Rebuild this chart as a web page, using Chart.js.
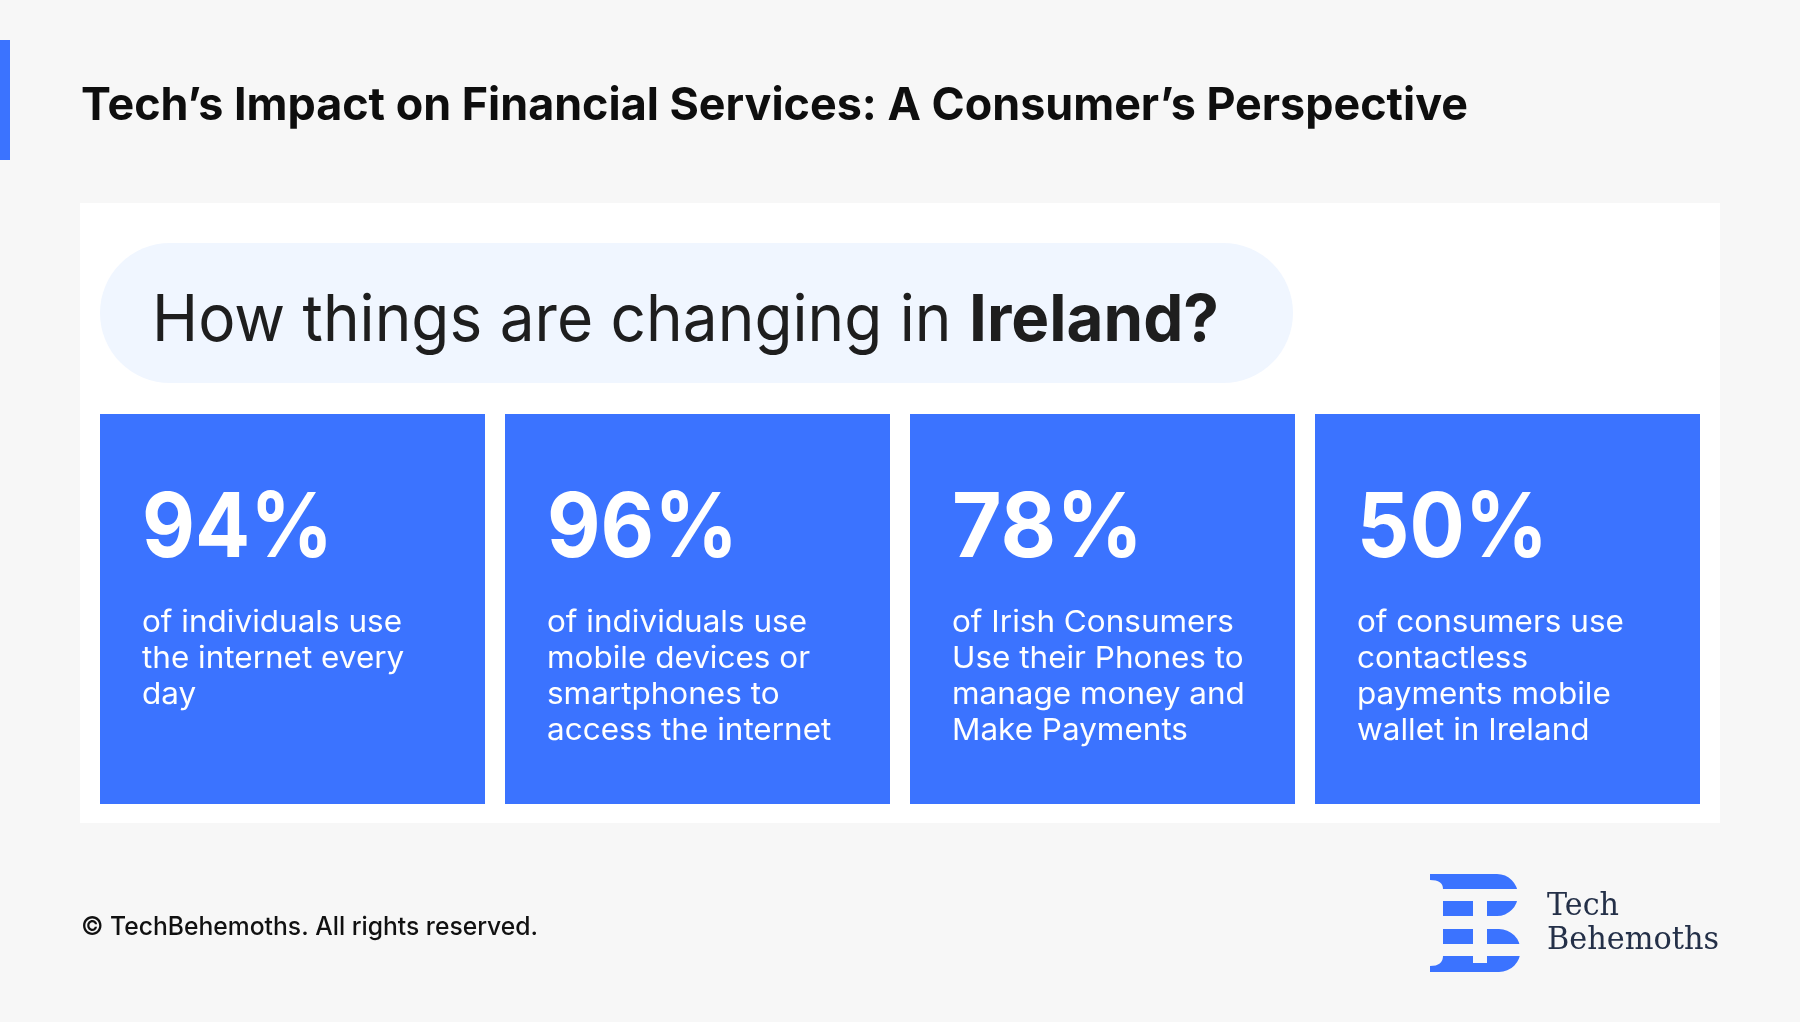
<!DOCTYPE html>
<html>
<head>
<meta charset="utf-8">
<script src="https://cdn.jsdelivr.net/npm/chart.js@4.4.1/dist/chart.umd.min.js"></script>
<style>
  html, body { margin: 0; padding: 0; background: #F7F7F7; }
  #wrap { width: 1800px; height: 1022px; }
</style>
</head>
<body>
<div id="wrap"><canvas id="stats" width="1800" height="1022"></canvas></div>
<script>
// data
const categories = ['Daily internet use', 'Mobile internet access', 'Phones for money & payments', 'Contactless mobile wallet'];
const shareValues = [94, 96, 78, 50];
const tileHeights = [100, 100, 100, 100]; // every card fills the full band
const descriptions = [
    ['of individuals use', 'the internet every', 'day'],
    ['of individuals use', 'mobile devices or', 'smartphones to', 'access the internet'],
    ['of Irish Consumers', 'Use their Phones to', 'manage money and', 'Make Payments'],
    ['of consumers use', 'contactless', 'payments mobile', 'wallet in Ireland'],
];
const pageTitle = 'Tech\u2019s Impact on Financial Services: A Consumer\u2019s Perspective';
const headingPlain = 'How things are changing in ';
const headingBold = 'Ireland?';
const footerText = '\u00A9 TechBehemoths. All rights reserved.';
const brandLines = ['Tech', 'Behemoths'];

const BLUE = '#3B73FF';
const PAGE_BG = '#F7F7F7';
const SANS = 'Inter, "Noto Sans", sans-serif';

// draw text squeezed/stretched horizontally to a target width
function fitText(ctx, text, x, y, width) {
    const w = ctx.measureText(text).width;
    const k = width ? width / w : 1;
    ctx.save();
    ctx.translate(x, y);
    ctx.scale(k, 1);
    ctx.fillText(text, 0, 0);
    ctx.restore();
    return w * k;
}

function roundRectPath(ctx, x, y, w, h, r) {
    ctx.beginPath();
    ctx.moveTo(x + r, y);
    ctx.lineTo(x + w - r, y);
    ctx.arc(x + w - r, y + r, r, -Math.PI / 2, Math.PI / 2);
    ctx.lineTo(x + r, y + h);
    ctx.arc(x + r, y + r, r, Math.PI / 2, Math.PI * 1.5);
    ctx.closePath();
}

function drawLogo(ctx) {
    ctx.save();
    ctx.fillStyle = BLUE;
    // B body with two bowls
    ctx.beginPath();
    ctx.moveTo(1430, 874);
    ctx.lineTo(1497, 874);
    ctx.arc(1497, 895, 21, -Math.PI / 2, Math.PI / 2);
    ctx.lineTo(1443, 916);
    ctx.lineTo(1443, 929);
    ctx.lineTo(1499, 929);
    ctx.arc(1499, 950.5, 21.5, -Math.PI / 2, Math.PI / 2);
    ctx.lineTo(1430, 972);
    ctx.lineTo(1430, 966);
    ctx.quadraticCurveTo(1443, 966, 1443, 956);
    ctx.lineTo(1443, 889);
    ctx.quadraticCurveTo(1443, 880, 1430, 880);
    ctx.closePath();
    ctx.fill();
    // negative space: three horizontal gaps and the centre channel
    ctx.fillStyle = PAGE_BG;
    [[889, 901], [916, 929], [944, 956]].forEach(([a, b]) => {
        ctx.fillRect(1440, a, 90, b - a);
    });
    ctx.fillRect(1473, 889, 14, 963 - 889);

    ctx.fillStyle = '#243048';
    ctx.font = '31px "DejaVu Serif", "Liberation Serif", serif';
    fitText(ctx, brandLines[0], 1547, 915, 72);
    fitText(ctx, brandLines[1], 1547, 949, 172);
    ctx.restore();
}

const pageBackdrop = {
    id: 'pageBackdrop',
    beforeDraw(chart) {
        const { ctx } = chart;
        ctx.save();
        ctx.fillStyle = PAGE_BG;
        ctx.fillRect(0, 0, chart.width, chart.height);

        ctx.fillStyle = BLUE;
        ctx.fillRect(0, 40, 10, 120);

        ctx.fillStyle = '#0E0E0E';
        ctx.textBaseline = 'alphabetic';
        ctx.font = `700 45px ${SANS}`;
        fitText(ctx, pageTitle, 81, 120, 1387);

        ctx.fillStyle = '#FFFFFF';
        ctx.fillRect(80, 203, 1640, 620);

        ctx.fillStyle = '#F0F6FF';
        roundRectPath(ctx, 100, 243, 1193, 140, 70);
        ctx.fill();

        ctx.fillStyle = '#1E1E1E';
        ctx.font = `400 65px ${SANS}`;
        fitText(ctx, headingPlain, 152, 341, 817);
        ctx.font = `700 65px ${SANS}`;
        fitText(ctx, headingBold, 969, 341, 250);
        ctx.restore();
    },
    afterDraw(chart) {
        const { ctx } = chart;
        ctx.save();
        ctx.fillStyle = '#111111';
        ctx.font = `500 25px ${SANS}`;
        fitText(ctx, footerText, 81, 935, 457);
        drawLogo(ctx);
        ctx.restore();
    }
};

const cardText = {
    id: 'cardText',
    afterDatasetsDraw(chart) {
        const { ctx } = chart;
        const bars = chart.getDatasetMeta(0).data;
        ctx.save();
        ctx.fillStyle = '#FFFFFF';
        ctx.textBaseline = 'alphabetic';
        ctx.font = `400 30px ${SANS}`;
        const k = 260 / ctx.measureText('of individuals use').width;
        bars.forEach((bar, i) => {
            const left = bar.x - bar.width / 2 + 42;
            ctx.font = `700 90px ${SANS}`;
            fitText(ctx, shareValues[i] + '%', left, 557, 191);
            ctx.font = `400 30px ${SANS}`;
            descriptions[i].forEach((line, j) => {
                const w = ctx.measureText(line).width * k;
                fitText(ctx, line, left, 632 + j * 36, w);
            });
        });
        ctx.restore();
    }
};

new Chart(document.getElementById('stats'), {
    type: 'bar',
    data: {
        labels: categories,
        datasets: [{
            label: 'Share of consumers',
            data: tileHeights,
            backgroundColor: BLUE,
            borderWidth: 0,
            categoryPercentage: 1,
            barPercentage: 385 / 405,
        }]
    },
    options: {
        responsive: false,
        devicePixelRatio: 1,
        animation: false,
        layout: { padding: { left: 90, right: 90, top: 414, bottom: 218 } },
        scales: {
            x: { display: false },
            y: { display: false, min: 0, max: 100 }
        },
        plugins: {
            legend: { display: false },
            tooltip: { enabled: false },
            title: { display: false }
        }
    },
    plugins: [pageBackdrop, cardText]
});
</script>
</body>
</html>
